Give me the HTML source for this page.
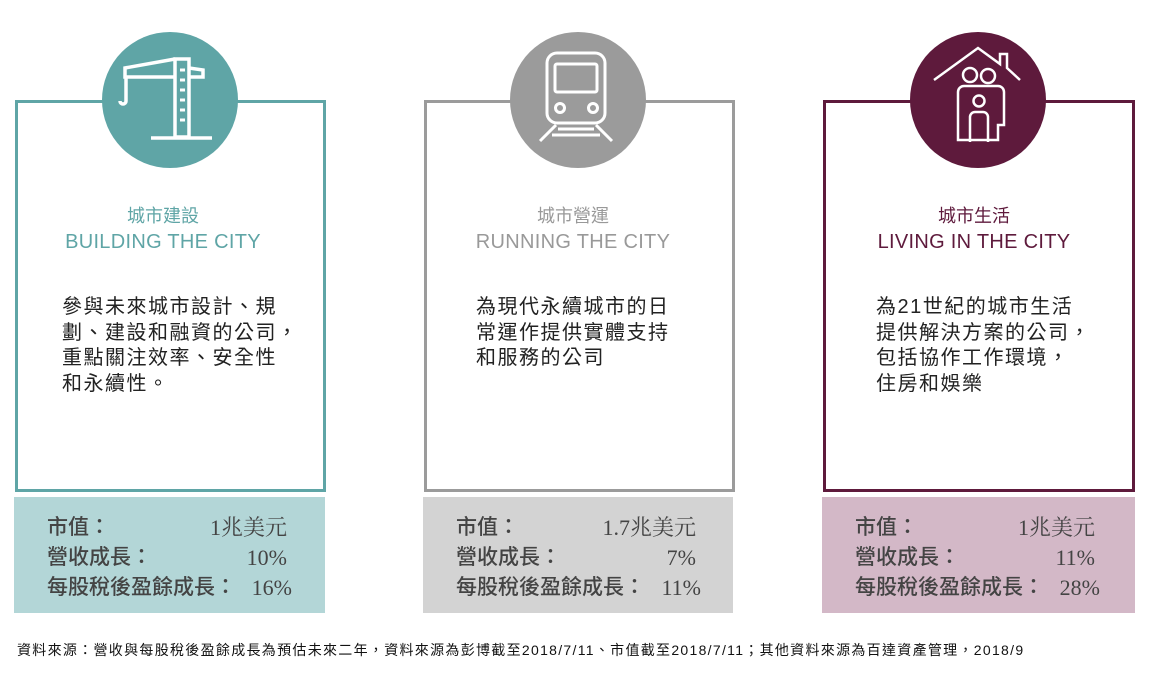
<!DOCTYPE html>
<html><head><meta charset="utf-8"><style>
body{margin:0;width:1175px;height:687px;background:#fff;position:relative;overflow:hidden;font-family:"Liberation Sans","Noto Sans CJK TC",sans-serif}
.box{position:absolute;top:100px;height:386px;border:3px solid;box-sizing:content-box}
.circ{position:absolute;width:136px;height:136px;border-radius:50%;top:32px}
.t{position:absolute;text-align:center;width:310px;top:204px;font-size:18px;line-height:24px}
.t .en{font-size:20px;line-height:28px;letter-spacing:0.3px}
.body{position:absolute;top:295px;font-size:20px;line-height:25.5px;color:#222;letter-spacing:1.5px}
.st{position:absolute;top:497px;height:116px;color:#444;font-size:21px}
.row{position:absolute;left:33px;width:240px;height:30px;line-height:30px;font-weight:500}
.row span{position:absolute;right:0;top:0;line-height:30px;font-family:"Liberation Serif","Noto Serif CJK SC",serif;font-weight:normal;font-size:22px}
.foot{position:absolute;left:17px;top:640px;font-size:14px;letter-spacing:1.3px;color:#111;white-space:nowrap}
</style></head><body>

<div class="box" style="left:15px;width:305px;border-color:#5fa5a6"></div>
<div class="box" style="left:424px;width:305px;border-color:#9b9b9b"></div>
<div class="box" style="left:823px;width:306px;border-color:#5e1a3c"></div>

<div class="circ" style="left:102px;background:#5fa5a6"></div>
<div class="circ" style="left:510px;background:#9b9b9b"></div>
<div class="circ" style="left:910px;background:#5e1a3c"></div>

<svg style="position:absolute;left:0;top:0" width="1175" height="200" fill="none" stroke="#fff" stroke-width="3.5">
 <rect x="175" y="59" width="14" height="78"/>
 <line x1="151" y1="138" x2="212" y2="138"/>
 <polyline points="175,59 125,68 125,77 175,77"/>
 <polyline points="189,68 203,70 203,77 189,77"/>
 <line x1="126" y1="77" x2="126" y2="96"/>
 <path d="M126 96 v5 a3 3 0 0 1 -6 0"/>
 <g stroke-width="3"><line x1="180" y1="70" x2="185" y2="70"/><line x1="180" y1="80" x2="185" y2="80"/><line x1="180" y1="90" x2="185" y2="90"/><line x1="180" y1="100" x2="185" y2="100"/><line x1="180" y1="110" x2="185" y2="110"/><line x1="180" y1="120" x2="185" y2="120"/></g>
 <g stroke-width="3">
 <rect x="547" y="53" width="58" height="70" rx="10"/>
 <rect x="555" y="64" width="42" height="28" rx="2"/>
 <circle cx="560" cy="108" r="4.5"/><circle cx="593" cy="108" r="4.5"/>
 <line x1="556" y1="125" x2="540" y2="141"/><line x1="596" y1="125" x2="612" y2="141"/>
 <line x1="558" y1="129" x2="594" y2="129"/><line x1="552" y1="135" x2="600" y2="135"/>
 </g>
 <g stroke-width="2.5">
 <polyline points="934,80 978,48 1000,64 1000,54 1007,54 1007,68 1020,80"/>
 <circle cx="970" cy="75" r="7"/><circle cx="988" cy="76" r="7"/>
 <path d="M958 140 V92 a6 6 0 0 1 6 -6 h34 a6 6 0 0 1 6 6 V125 h-6 V140 Z"/>
 <circle cx="979" cy="101" r="5.5"/>
 <path d="M970 142 V117 a5 5 0 0 1 5 -5 h8 a5 5 0 0 1 5 5 V142"/>
 </g>
</svg>

<div class="t" style="left:8px;color:#5fa5a6">城市建設<div class="en">BUILDING THE CITY</div></div>
<div class="t" style="left:418px;color:#999">城市營運<div class="en">RUNNING THE CITY</div></div>
<div class="t" style="left:819px;color:#5e1a3c">城市生活<div class="en">LIVING IN THE CITY</div></div>

<div class="body" style="left:62px">參與未來城市設計、規<br>劃、建設和融資的公司，<br>重點關注效率、安全性<br>和永續性。</div>
<div class="body" style="left:476px">為現代永續城市的日<br>常運作提供實體支持<br>和服務的公司</div>
<div class="body" style="left:876px">為21世紀的城市生活<br>提供解決方案的公司，<br>包括協作工作環境，<br>住房和娛樂</div>

<div class="st" style="left:14px;width:311px;background:#b3d6d7">
 <div class="row" style="top:16px">市值：<span>1兆美元</span></div>
 <div class="row" style="top:46px">營收成長：<span>10%</span></div>
 <div class="row" style="top:76px;width:245px">每股稅後盈餘成長：<span>16%</span></div>
</div>
<div class="st" style="left:423px;width:310px;background:#d3d3d3">
 <div class="row" style="top:16px">市值：<span>1.7兆美元</span></div>
 <div class="row" style="top:46px">營收成長：<span>7%</span></div>
 <div class="row" style="top:76px;width:245px">每股稅後盈餘成長：<span>11%</span></div>
</div>
<div class="st" style="left:822px;width:313px;background:#d3b8c7">
 <div class="row" style="top:16px">市值：<span>1兆美元</span></div>
 <div class="row" style="top:46px">營收成長：<span>11%</span></div>
 <div class="row" style="top:76px;width:245px">每股稅後盈餘成長：<span>28%</span></div>
</div>

<div class="foot">資料來源：營收與每股稅後盈餘成長為預估未來二年，資料來源為彭博截至2018/7/11、市值截至2018/7/11；其他資料來源為百達資產管理，2018/9</div>
</body></html>
